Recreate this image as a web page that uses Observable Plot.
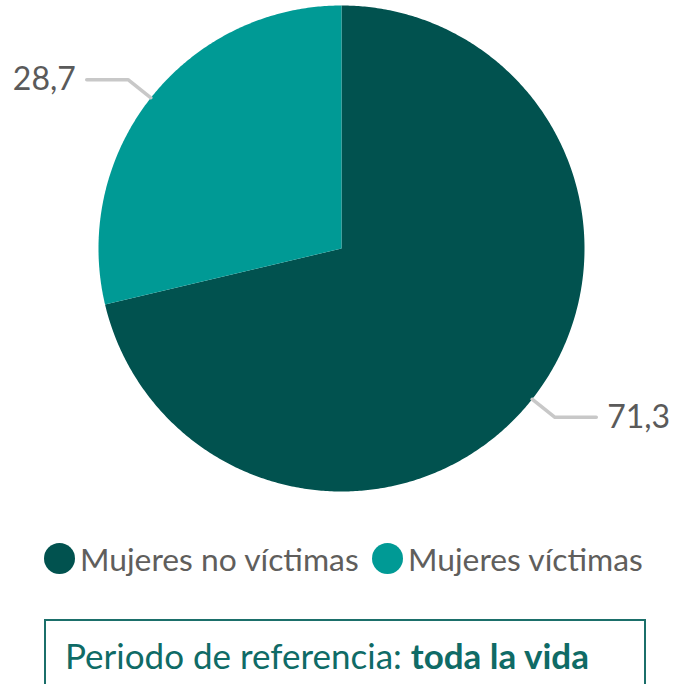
<!DOCTYPE html>
<html>
<head>
<meta charset="utf-8">
<script src="https://cdn.jsdelivr.net/npm/d3@7"></script>
<script src="https://cdn.jsdelivr.net/npm/@observablehq/plot@0.6"></script>
<style>
  html, body { margin: 0; padding: 0; background: #fff; }
  #wrap { position: relative; width: 673px; height: 684px; overflow: hidden; font-family: Lato, "Open Sans", sans-serif; }
  #chart { position: absolute; left: 0; top: 0; }
  .leg { position: absolute; top: 541px; height: 35px; display: flex; align-items: center; color: #605E5C; font-size: 31.8px; white-space: nowrap; }
  .leg .dot { width: 31px; height: 31px; border-radius: 50%; margin-right: 5px; flex: none; }
  #box { position: absolute; left: 44px; top: 619px; width: 602px; height: 90px; border: 2px solid #1B6F6A; box-sizing: border-box; color: #0F6B66; font-size: 35px; padding-left: 19px; line-height: 68px; white-space: nowrap; }
</style>
</head>
<body>
<div id="wrap">
  <div id="chart"></div>
  <div id="legend"></div>
  <div id="box">Periodo de referencia: <b>toda la vida</b></div>
</div>
<script>
// Data
const categories = ["Mujeres no víctimas", "Mujeres víctimas"];
const values = [71.3, 28.7];
const labels = ["71,3", "28,7"];
const colors = ["#01524F", "#009A95"];

const pie = d3.pie().sort(null).value(d => d)(values);

// slice polygons in unit-circle data space (angle 0 at top, clockwise)
const slicePts = [];
pie.forEach((p, i) => {
  const n = Math.max(2, Math.ceil((p.endAngle - p.startAngle) / (Math.PI / 360)));
  slicePts.push({cat: categories[i], x: 0, y: 0});
  for (let k = 0; k <= n; k++) {
    const a = p.startAngle + (p.endAngle - p.startAngle) * k / n;
    slicePts.push({cat: categories[i], x: Math.sin(a), y: Math.cos(a)});
  }
  slicePts.push({cat: categories[i], x: 0, y: 0});
});

// leader lines and labels
const leaderPts = [];
const labelPts = [];
pie.forEach((p, i) => {
  const a = (p.startAngle + p.endAngle) / 2;
  const sx = Math.sin(a), sy = Math.cos(a);
  const side = sx >= 0 ? 1 : -1;
  const ex = sx * 1.12, ey = sy * 1.12;
  const hx = ex + side * 0.17;
  leaderPts.push({id: i, x: sx, y: sy}, {id: i, x: ex, y: ey}, {id: i, x: hx, y: ey});
  labelPts.push({x: hx + side * 0.045, y: ey, label: labels[i], anchor: side > 0 ? "start" : "end"});
});

const plot = Plot.plot({
  width: 673,
  height: 500,
  marginLeft: 98,
  marginRight: 89,
  marginTop: 5,
  marginBottom: 9,
  x: {domain: [-1, 1], axis: null},
  y: {domain: [-1, 1], axis: null},
  color: {domain: categories, range: colors},
  style: {fontFamily: "Lato, 'Open Sans', sans-serif", background: "transparent"},
  marks: [
    Plot.line(slicePts, {x: "x", y: "y", z: "cat", fill: "cat", stroke: "none", curve: "linear"}),
    Plot.line(leaderPts, {x: "x", y: "y", z: "id", stroke: "#C8C8C8", strokeWidth: 3.5, curve: "linear"}),
    Plot.text(labelPts.filter(d => d.anchor === "start"), {x: "x", y: "y", text: "label", textAnchor: "start", fontSize: 32, fill: "#5A5A5A"}),
    Plot.text(labelPts.filter(d => d.anchor === "end"), {x: "x", y: "y", text: "label", textAnchor: "end", fontSize: 32, fill: "#5A5A5A"})
  ]
});
document.getElementById("chart").appendChild(plot);

// legend
const legLefts = [44, 372];
const legend = document.getElementById("legend");
categories.forEach((c, i) => {
  const item = document.createElement("div");
  item.className = "leg";
  item.style.left = legLefts[i] + "px";
  const dot = document.createElement("span");
  dot.className = "dot";
  dot.style.background = colors[i];
  const txt = document.createElement("span");
  txt.textContent = c;
  item.appendChild(dot);
  item.appendChild(txt);
  legend.appendChild(item);
});
</script>
</body>
</html>
